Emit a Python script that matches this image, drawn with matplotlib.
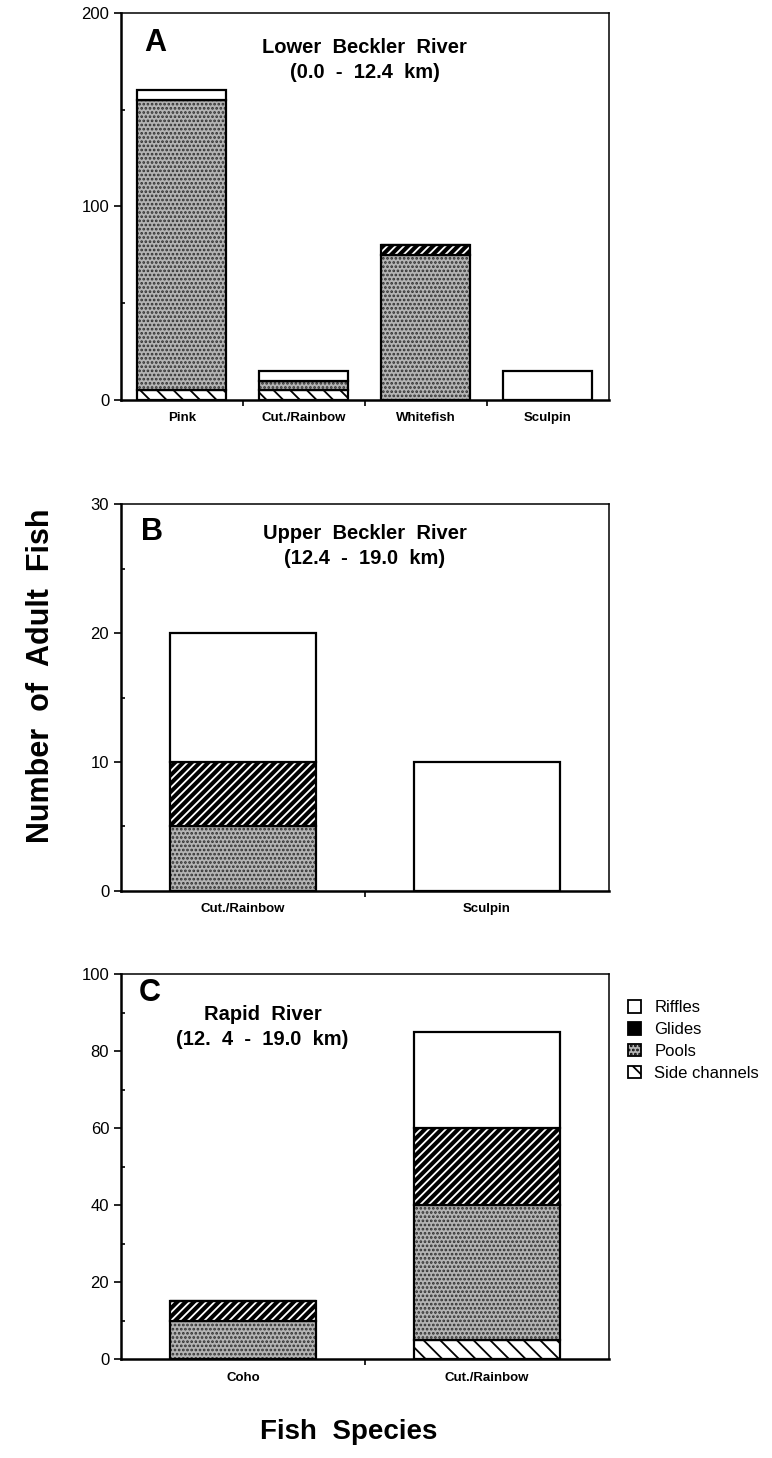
import matplotlib
matplotlib.use("Agg")
import matplotlib.pyplot as plt
from matplotlib.patches import Patch
from matplotlib.ticker import MultipleLocator

plt.rcParams['font.family'] = ['Liberation Sans', 'DejaVu Sans']
plt.rcParams['hatch.linewidth'] = 1.3

# counts per habitat, bottom to top of each stack
a_species = ["Pink", "Cut./Rainbow", "Whitefish", "Sculpin"]
a_side = [5, 5, 0, 0]
a_pools = [150, 5, 75, 0]
a_glides = [0, 0, 5, 0]
a_riffles = [5, 5, 0, 15]

b_species = ["Cut./Rainbow", "Sculpin"]
b_side = [0, 0]
b_pools = [5, 0]
b_glides = [5, 0]
b_riffles = [10, 10]

c_species = ["Coho", "Cut./Rainbow"]
c_side = [0, 5]
c_pools = [10, 35]
c_glides = [5, 20]
c_riffles = [0, 25]

habitats = ["Riffles", "Glides", "Pools", "Side channels"]

styles = {
    "Side channels": dict(facecolor="white", edgecolor="black", hatch="\\\\", linewidth=0),
    "Pools": dict(facecolor="#b4b4b4", edgecolor="#303030", hatch="....", linewidth=0),
    "Glides": dict(facecolor="black", edgecolor="white", hatch="////", linewidth=0),
    "Riffles": dict(facecolor="white", edgecolor="white", linewidth=0),
}


def draw_panel(ax, species, side, pools, glides, riffles, width, ymax, major, minor):
    pos = list(range(len(species)))
    bottom = [0] * len(species)
    for name, vals in [("Side channels", side), ("Pools", pools),
                       ("Glides", glides), ("Riffles", riffles)]:
        ax.bar(pos, vals, width, bottom=bottom, **styles[name])
        ax.bar(pos, vals, width, bottom=bottom, fill=False,
               edgecolor="black", linewidth=1.6)
        bottom = [b + v for b, v in zip(bottom, vals)]
    ax.set_xlim(-0.5, len(species) - 0.5)
    ax.set_ylim(0, ymax)
    ax.set_xticks(pos)
    ax.set_xticklabels(species, fontsize=9.5, fontweight="bold")
    ax.set_xticks([p + 0.5 for p in pos[:-1]], minor=True)
    ax.tick_params(axis="x", which="major", length=0, pad=9)
    ax.tick_params(axis="x", which="minor", length=4, width=1.2, direction="out")
    ax.yaxis.set_major_locator(MultipleLocator(major))
    ax.yaxis.set_minor_locator(MultipleLocator(minor))
    ax.tick_params(axis="y", which="major", length=5, width=1.2,
                   direction="out", labelsize=12)
    ax.tick_params(axis="y", which="minor", length=3, width=1.2, direction="in")
    for side_name in ["left", "bottom"]:
        ax.spines[side_name].set_linewidth(1.8)
    for side_name in ["top", "right"]:
        ax.spines[side_name].set_linewidth(1.1)


fig = plt.figure(figsize=(7.72, 14.58), dpi=100)

ax_a = fig.add_axes([0.1567, 0.7257, 0.632, 0.2654])
ax_b = fig.add_axes([0.1567, 0.3889, 0.632, 0.2654])
ax_c = fig.add_axes([0.1567, 0.0679, 0.632, 0.2640])

draw_panel(ax_a, a_species, a_side, a_pools, a_glides, a_riffles, 0.73, 200, 100, 50)
draw_panel(ax_b, b_species, b_side, b_pools, b_glides, b_riffles, 0.6, 30, 10, 5)
draw_panel(ax_c, c_species, c_side, c_pools, c_glides, c_riffles, 0.6, 100, 20, 10)

title_kw = dict(ha="center", va="center", fontsize=14.5, fontweight="bold")
letter_kw = dict(ha="center", va="center", fontsize=22, fontweight="bold")

ax_a.text(0.07, 0.922, "A", transform=ax_a.transAxes, **letter_kw)
ax_a.text(0.50, 0.912, "Lower  Beckler  River", transform=ax_a.transAxes, **title_kw)
ax_a.text(0.50, 0.845, "(0.0  -  12.4  km)", transform=ax_a.transAxes, **title_kw)

ax_b.text(0.063, 0.928, "B", transform=ax_b.transAxes, **letter_kw)
ax_b.text(0.50, 0.925, "Upper  Beckler  River", transform=ax_b.transAxes, **title_kw)
ax_b.text(0.50, 0.860, "(12.4  -  19.0  km)", transform=ax_b.transAxes, **title_kw)

ax_c.text(0.06, 0.95, "C", transform=ax_c.transAxes, **letter_kw)
ax_c.text(0.29, 0.895, "Rapid  River", transform=ax_c.transAxes, **title_kw)
ax_c.text(0.29, 0.829, "(12.  4  -  19.0  km)", transform=ax_c.transAxes, **title_kw)

handles = []
for name in habitats:
    st = styles[name]
    if name == "Riffles":
        handles.append(Patch(facecolor="white", edgecolor="black", linewidth=1.3))
    elif name == "Glides":
        handles.append(Patch(facecolor="black", edgecolor="black", linewidth=1.3))
    else:
        handles.append(Patch(facecolor=st["facecolor"], edgecolor="black",
                             hatch=st["hatch"], linewidth=1.3))
ax_c.legend(handles, habitats, loc="upper left", bbox_to_anchor=(1.025, 0.95),
            frameon=False, fontsize=12, handlelength=0.8, handleheight=0.8,
            handletextpad=0.8, labelspacing=0.4, borderaxespad=0)

fig.text(0.053, 0.5364, "Number  of  Adult  Fish", rotation=90, ha="center",
         va="center", fontsize=22, fontweight="bold")
fig.text(0.452, 0.018, "Fish  Species", ha="center", va="center",
         fontsize=20, fontweight="bold")

fig.savefig("out.png", dpi=100)
